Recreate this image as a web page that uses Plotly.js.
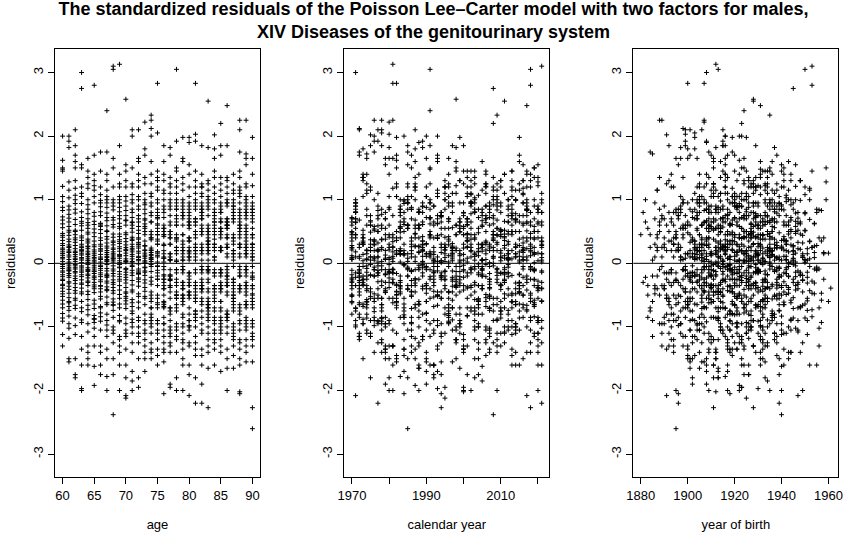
<!DOCTYPE html>
<html>
<head>
<meta charset="utf-8">
<script src="https://cdn.plot.ly/plotly-3.0.1.min.js"></script>
<style>html,body{margin:0;padding:0;background:#fff;}#chart{width:867px;height:546px;}</style>
</head>
<body>
<div id="chart"></div>
<script>
const ages = [60,61,62,63,64,65,66,67,68,69,70,71,72,73,74,75,76,77,78,79,80,81,82,83,84,85,86,87,88,89,90];
const years = [1970,1971,1972,1973,1974,1975,1976,1977,1978,1979,1980,1981,1982,1983,1984,1985,1986,1987,1988,1989,
  1990,1991,1992,1993,1994,1995,1996,1997,1998,1999,2000,2001,2002,2003,2004,2005,2006,2007,2008,2009,
  2010,2011,2012,2013,2014,2015,2016,2017,2018,2019,2020,2021];
const yTicks = [-3,-2,-1,0,1,2,3];
const ageTicks = [60,65,70,75,80,85,90];
const yearTicks = [1970,1980,1990,2000,2010,2020];
const yearTickText = ['1970','','1990','','2010',''];
const birthTicks = [1880,1900,1920,1940,1960];

// standardized residuals, one array per age, values for years 1970..2021
const r60 = [0.12,-0.35,0.68,1.05,-0.08,-0.52,2.00,0.22,-0.91,-0.18,0.41,0.03,1.62,
 -0.27,-0.64,0.15,0.88,0.47,-1.30,-0.02,0.31,1.48,-0.44,-0.12,0.73,0.09,
 -0.79,0.56,0.24,-0.21,-1.12,0.36,0.97,-0.05,-0.58,0.19,1.21,-0.33,0.62,
 0.44,-0.86,-0.14,0.07,1.45,-0.48,0.28,-0.70,0.83,-0.25,1.50,0.16,-0.39];
const r61 = [-0.62,0.18,-0.12,-1.50,-0.04,0.49,1.92,-0.29,0.77,0.06,-0.95,0.34,-0.16,
 0.58,2.00,-0.41,-0.11,-1.18,0.26,0.90,-0.07,0.13,-0.68,0.44,-1.55,0.21,
 0.02,-0.36,1.82,0.65,-0.22,-0.83,0.38,1.03,-0.01,0.29,-0.54,-1.02,0.71,
 -0.19,0.10,0.52,-0.74,1.15,0.25,-0.31,-0.09,0.84,-0.47,0.17,1.28,-0.60];
const r62 = [0.28,-0.15,1.70,0.52,-0.86,-1.80,0.08,2.10,0.37,-0.43,-0.02,1.18,-0.66,
 0.19,0.94,-1.50,1.50,-0.24,-0.07,0.61,-0.32,1.85,0.14,-0.98,0.45,0.03,
 -0.55,0.23,1.60,-0.13,0.79,-1.75,-0.38,0.11,1.07,-0.20,0.50,-0.71,-0.04,
 0.33,1.30,-0.27,0.06,-1.12,0.69,-0.47,0.17,0.85,-0.09,-0.58,0.40,1.00];
const r63 = [0.07,3.00,-0.45,-0.33,1.10,-0.18,-0.76,0.59,0.22,1.55,-2.00,-0.09,0.36,
 -0.48,0.13,1.05,-1.15,0.27,0.81,-0.04,-0.60,0.43,0.18,-1.97,0.01,-0.26,
 0.66,-0.89,1.50,0.20,-0.12,-0.39,0.94,0.05,-1.35,0.30,-0.21,0.72,2.75,
 -0.14,0.52,-0.70,0.09,1.20,-0.31,-1.60,0.25,0.63,-0.06,0.40,-0.93,0.15];
const r64 = [-0.23,0.64,0.11,1.35,-0.57,-0.02,-1.40,0.32,0.85,-0.17,1.65,0.08,-0.44,
 0.49,-0.81,-0.10,0.26,1.00,-1.60,0.19,-0.35,1.25,0.04,-0.66,0.55,-0.13,
 0.38,-0.28,1.45,-0.95,0.14,0.70,-0.07,-1.50,0.23,0.60,-0.49,0.01,0.92,
 -0.30,0.16,-1.08,0.46,-0.19,0.78,0.05,1.18,-0.73,0.27,-0.11,-1.30,0.35];
const r65 = [0.09,-0.71,-0.30,1.40,-0.20,-1.15,0.54,0.02,-0.87,-0.46,-0.13,0.26,1.70,
 -0.37,0.61,-0.06,-0.93,-1.92,0.18,0.42,1.05,-0.25,0.07,-1.30,0.74,-0.12,
 0.29,-0.58,1.22,0.12,-0.03,-0.82,0.95,-0.34,0.48,-1.62,0.21,-0.16,1.15,
 -0.88,0.04,0.66,-0.40,1.30,0.15,-0.64,-0.22,0.35,2.80,-0.09,0.80,-1.02];
const r66 = [-0.18,0.95,0.30,-0.68,0.06,0.60,0.58,-0.11,-0.35,-0.40,0.21,-1.05,0.14,
 0.75,-0.03,1.75,-0.52,-0.26,0.40,0.89,-0.78,0.10,-1.75,0.63,-0.15,1.20,
 -0.91,0.27,-0.36,0.02,-1.30,0.47,0.19,0.81,-0.56,-0.08,1.45,-0.29,0.36,
 -1.40,0.53,0.08,-0.21,-0.70,0.99,-0.45,1.08,0.23,-0.05,-0.84,0.62,-1.60];
const r67 = [0.24,-0.97,-0.20,0.04,-0.43,0.67,1.75,-0.19,0.38,-1.35,0.88,0.11,-0.62,
 -1.78,0.50,-0.08,1.05,-0.31,0.17,-1.15,0.72,2.40,-0.53,0.03,-0.22,1.30,
 0.42,-0.12,-1.50,0.59,0.95,-0.37,-2.00,0.14,-0.80,1.15,0.06,0.27,-0.65,
 0.20,-0.41,1.40,-0.02,0.79,-1.05,-0.17,0.32,0.51,-0.90,1.00,-0.28,0.09];
const r68 = [0.72,0.10,-0.65,-0.26,-0.61,-1.10,0.35,0.90,-0.04,1.65,-1.50,0.18,-0.33,
 0.57,-0.85,0.08,-0.12,0.68,-1.25,0.29,-0.47,1.50,0.02,0.41,-1.75,-0.20,
 0.95,0.13,-0.38,-1.00,0.24,0.61,1.20,-0.09,-0.56,0.05,0.33,-0.74,-2.38,
 0.84,-0.16,0.46,-1.05,0.07,1.00,-0.30,0.22,-0.66,3.05,0.15,-0.43,3.10];
const r69 = [-0.28,0.81,-1.15,0.14,1.40,0.37,-0.06,-0.92,0.55,-0.17,1.05,3.13,-0.49,
 0.23,-0.02,1.85,-1.30,0.46,-0.64,0.11,0.88,-0.21,-1.60,0.70,0.04,1.20,
 -0.82,0.31,-0.13,0.95,-0.42,0.08,-0.70,1.25,0.19,0.58,-1.20,-0.25,0.75,
 -2.00,0.42,-0.07,1.00,-0.90,0.26,-0.35,0.63,-1.40,0.12,0.01,-0.55,0.34];
const r70 = [0.48,-0.22,-1.15,-0.64,0.07,0.20,0.29,0.83,-0.55,-0.10,-0.38,-1.60,0.16,
 -0.45,0.98,0.03,-0.71,-1.35,0.60,0.22,1.05,-0.95,-0.14,0.39,0.75,-2.12,
 0.12,-1.05,2.58,-0.31,0.45,0.02,1.45,-1.80,-0.18,0.67,0.90,-0.52,0.25,
 -0.08,1.20,-1.10,0.34,-0.47,0.68,-0.86,1.55,-2.08,1.30,-0.26,0.04,-0.59];
const r71 = [-0.11,0.65,2.10,-0.88,0.21,-0.45,1.00,-1.25,0.03,0.38,0.85,-0.62,1.50,
 0.14,-1.70,0.55,-0.27,1.20,-0.03,0.30,-0.79,0.72,-1.10,2.00,-0.19,0.41,
 -0.93,0.07,-0.34,0.49,-1.40,0.26,1.08,-0.57,0.18,-1.85,0.64,-0.05,0.11,
 1.25,-0.75,0.36,-0.15,0.60,-1.00,0.02,0.95,-0.42,0.23,-0.68,-2.00,0.80];
const r72 = [0.06,-0.70,-0.16,0.33,-0.14,0.30,0.52,0.19,2.10,-1.00,-0.23,0.40,1.05,
 -0.85,-0.01,-1.80,0.70,0.27,1.40,-0.36,0.11,-1.15,0.90,-0.52,0.04,-1.95,
 1.65,0.16,-0.29,-0.90,0.58,1.20,-0.09,0.38,-1.50,-0.17,0.75,0.24,1.00,
 -1.10,0.09,-0.48,0.85,-0.61,0.30,1.60,1.30,-0.25,0.47,-0.12,0.65,-1.25];
const r73 = [-0.52,0.95,0.08,1.80,-1.05,-0.19,0.35,0.70,-1.40,0.13,2.22,-0.31,0.50,
 0.02,-1.20,0.85,-0.44,1.35,0.27,-0.07,-1.70,0.62,-0.12,1.70,-0.55,0.21,
 -0.95,0.04,1.10,-0.26,0.45,-1.30,0.78,0.16,0.55,-0.80,1.25,-0.38,0.00,
 0.68,-1.10,0.28,-0.06,0.92,-0.65,0.11,-1.50,1.00,0.20,0.58,-0.90,-0.14];
const r74 = [0.21,0.90,2.12,-0.05,-0.60,0.20,0.37,1.10,-0.28,-0.85,0.09,2.25,-1.50,
 0.40,0.65,1.25,-0.13,-0.70,-1.00,0.03,2.00,0.45,-0.90,-1.35,0.17,-0.80,
 1.40,-0.22,-0.50,-1.10,0.75,0.40,0.95,-0.70,0.12,1.60,-0.02,-0.55,-1.25,
 2.33,-0.33,0.24,0.08,1.05,-0.95,-0.45,0.06,0.65,-1.40,0.14,0.50,0.80];
const r75 = [-0.25,0.70,-1.10,1.35,0.15,0.60,-0.90,-0.04,2.05,-0.95,0.45,-0.15,2.83,
 0.55,-1.35,-0.20,-0.50,1.15,0.80,0.35,-0.05,0.18,-1.60,0.62,0.30,1.00,
 -0.70,-0.25,-1.20,0.50,1.45,0.45,0.10,-0.90,0.72,-0.11,1.20,-1.05,0.38,
 -0.55,0.95,0.12,0.30,-1.45,-0.65,-0.35,1.30,0.75,0.18,-0.62,0.85,0.02];
const r76 = [0.60,0.45,-0.62,-0.95,-0.25,1.85,-0.70,0.10,-1.25,0.08,-0.30,0.45,-1.55,
 1.00,0.15,-0.35,-0.85,1.60,0.55,0.02,-1.05,0.72,-0.25,1.10,-2.05,-0.40,
 -0.65,0.90,-0.05,0.55,-1.35,-0.20,1.30,0.80,0.30,-0.40,-0.68,-1.15,0.08,
 1.15,-0.60,0.42,0.20,0.85,-0.95,-0.18,-0.50,1.40,-0.10,0.50,-1.40,0.28];
const r77 = [-0.80,0.40,-0.27,0.30,0.85,-1.15,-0.20,-0.55,-1.05,-1.90,0.06,-0.10,1.25,
 0.15,-0.70,0.95,-1.40,-0.35,-0.25,1.82,-0.90,0.50,0.05,0.75,-1.25,-0.25,
 -0.45,1.10,0.60,0.05,-1.95,-0.70,-0.35,1.35,-1.00,0.30,0.15,0.90,-0.75,
 0.45,-1.30,-0.18,1.00,0.50,0.65,1.70,0.10,-0.20,1.20,-1.10,-0.38,0.40];
const r78 = [0.35,-1.00,-0.50,0.40,0.75,0.25,-0.10,1.92,-0.65,-0.45,-1.80,0.25,0.20,
 0.90,-0.55,1.20,0.85,0.03,-0.10,0.65,-1.40,3.05,-0.30,-0.50,-1.15,1.00,
 -0.75,0.20,0.45,1.30,-2.00,-0.55,-0.15,0.85,-0.95,0.05,1.10,0.60,0.40,
 -1.20,-0.70,-0.25,0.15,1.45,0.70,0.38,-0.50,0.95,-1.05,1.50,-0.35,0.60];
const r79 = [-0.50,0.80,-1.20,-0.30,1.65,0.75,0.05,-0.40,-0.10,-1.50,-0.55,-0.15,1.98,
 0.20,-0.95,0.60,0.30,1.25,-2.00,-0.40,-0.60,0.85,-0.05,1.60,-1.10,0.15,
 0.35,0.95,-0.80,-0.35,-1.35,0.70,0.20,1.00,-0.65,0.25,-1.00,-0.50,1.35,
 -0.10,0.45,-1.25,0.75,0.45,0.10,1.15,-0.85,-0.30,-0.55,0.90,-1.60,0.05];
const r80 = [0.40,-2.08,-0.15,0.35,-0.80,-0.90,-0.98,0.10,0.60,0.55,-1.30,-0.25,-0.55,
 -0.20,0.70,-1.05,-0.35,-0.45,1.90,0.80,0.15,-1.60,0.90,0.10,-0.45,-0.70,
 1.20,0.25,0.60,1.98,0.05,1.05,-0.50,-0.30,-1.75,0.75,0.35,0.20,-0.90,
 0.95,-0.15,1.40,0.65,-0.50,-1.00,0.18,0.40,0.85,-1.25,-0.35,1.55,0.65];
const r81 = [-0.35,0.90,-0.80,1.30,0.20,0.10,-0.55,-2.20,-0.75,0.45,2.03,2.83,-0.60,
 -0.30,-1.45,0.95,0.20,0.60,-0.85,1.92,0.30,0.15,-1.80,-0.45,-0.55,1.10,
 0.70,0.25,-1.00,-0.80,-0.10,1.45,0.65,0.40,-1.25,0.05,0.70,-0.40,1.20,
 -0.90,-0.35,-0.15,0.65,-1.35,1.00,0.50,0.20,-0.75,-0.50,-1.15,0.85,0.25];
const r82 = [0.50,0.70,-0.40,-0.25,-0.65,1.20,0.30,0.50,-0.85,-0.95,-0.10,0.75,-1.45,
 0.85,0.15,-0.40,-1.05,1.20,0.60,0.20,-1.90,-0.55,-0.35,1.05,0.80,0.25,
 -0.45,1.85,0.20,0.70,-1.35,-0.15,0.95,-0.75,-0.35,-0.05,1.25,-1.10,0.45,
 0.55,0.80,-0.30,0.05,-1.60,-0.60,-0.40,1.10,0.85,1.40,-0.10,0.90,-2.20];
const r83 = [-0.40,0.85,-0.05,0.30,1.25,-0.55,-0.10,-0.90,-0.65,0.20,1.82,-1.30,-0.45,
 0.15,-0.75,1.00,0.35,0.55,-1.65,-0.80,-0.10,0.40,0.60,1.15,-2.27,0.25,
 -0.85,-0.70,-0.25,1.30,-1.20,0.35,0.45,0.95,-1.00,0.05,-0.60,-0.70,0.20,
 1.05,0.50,2.55,-0.15,0.75,-1.40,-0.30,-0.65,0.90,0.30,0.50,-1.10,-0.12];
const r84 = [0.70,0.45,-0.10,-0.95,-0.35,2.02,-0.60,-0.15,-1.20,0.80,0.25,1.65,-0.70,
 -0.40,-1.35,0.60,0.10,1.80,0.80,0.25,-0.40,0.95,-1.60,-0.50,-0.20,1.20,
 0.55,0.10,-1.05,0.65,0.30,1.35,-0.75,-0.45,-0.15,0.85,-1.25,0.30,0.50,
 1.00,-0.35,-0.55,-0.90,0.20,-1.10,0.75,0.05,1.45,0.65,0.38,-0.85,1.10];
const r85 = [-0.60,0.95,0.25,1.35,-1.10,-0.40,0.20,0.50,-0.70,-1.40,-0.15,-0.30,1.05,
 0.55,-0.85,-0.20,1.70,0.40,0.85,-1.20,-0.35,-0.10,0.65,-1.70,0.25,0.55,
 1.25,0.20,0.45,-0.95,1.85,0.65,-0.10,-1.05,-0.60,-0.35,0.90,0.80,2.20,
 -1.30,-0.75,-0.15,0.50,0.70,1.15,-0.45,0.20,-1.00,0.80,0.25,-0.40,-0.90];
const r86 = [0.25,-0.90,-0.35,0.40,0.60,0.25,-0.85,-0.15,1.85,0.70,0.30,-2.00,-0.50,
 -0.35,1.00,0.60,0.15,-1.50,-0.75,-0.20,1.20,0.95,0.40,-0.05,0.65,-1.10,
 0.90,-0.45,-0.20,-1.65,0.55,0.25,1.10,-0.80,-0.35,-0.10,0.70,-1.35,0.45,
 0.55,1.30,-0.30,-0.80,-1.00,0.10,0.65,0.60,2.48,-0.85,-0.25,1.35,0.95];
const r87 = [-0.50,-0.75,-1.15,0.30,1.15,0.65,0.10,-0.95,-0.55,-0.30,1.40,-1.30,0.40,
 0.20,0.80,0.95,-0.45,-0.65,-1.65,0.35,0.15,1.00,-1.05,-0.50,-0.25,0.85,
 0.70,0.15,-1.20,-0.70,-0.35,1.10,0.90,0.45,-0.05,0.80,-1.45,-0.25,-0.55,
 0.90,0.20,0.40,-1.00,-0.60,-0.40,1.25,0.75,0.05,-0.60,0.70,-1.10,-0.30];
const r88 = [0.65,0.55,1.75,-0.20,-0.40,1.15,2.25,0.75,0.25,-1.35,-0.90,-0.10,1.20,
 0.85,-2.05,0.55,0.40,2.10,-0.65,-0.15,-1.50,0.70,0.25,1.05,-0.95,-0.35,
 -0.05,0.80,-1.25,-0.45,-2.02,0.60,0.30,1.45,-0.70,-0.20,-1.05,0.95,0.45,
 0.30,-0.80,1.10,0.15,0.50,-1.60,-0.75,-0.35,0.10,0.60,1.35,-1.20,-0.40];
const r89 = [-0.30,1.00,-0.85,0.45,1.72,0.10,-0.20,-0.50,2.25,0.70,0.60,-1.30,-0.35,
 0.80,0.20,1.55,-0.95,-0.10,-0.60,0.95,-1.55,-0.40,-0.15,1.65,0.80,0.25,
 -0.45,-0.70,-1.20,0.15,1.25,0.35,0.55,-1.00,0.85,0.25,0.30,-1.40,1.05,
 -0.65,-0.35,-0.10,0.90,0.75,0.50,-1.05,-0.05,1.20,0.40,-0.65,-0.90,0.15];
const r90 = [0.45,0.80,-0.22,-0.35,-0.70,0.05,-0.48,0.20,-0.95,-1.30,-0.15,-0.55,-1.10,
 0.65,0.30,-2.60,0.85,0.10,0.55,-1.15,1.65,0.45,-0.20,-0.90,0.75,0.30,
 1.05,-1.55,-0.35,-0.05,0.80,0.70,0.25,-1.20,-0.60,-0.40,1.40,0.85,0.10,
 -0.25,0.90,-1.00,-0.50,-0.60,0.15,1.98,0.95,0.40,-2.27,-0.65,1.22,0.30];

const residualRows = [r60,r61,r62,r63,r64,r65,r66,r67,r68,r69,r70,r71,r72,r73,r74,r75,
  r76,r77,r78,r79,r80,r81,r82,r83,r84,r85,r86,r87,r88,r89,r90];

const ageX = [], yearX = [], birthX = [], resY = [];
residualRows.forEach((row, i) => {
  row.forEach((v, j) => {
    if (j >= years.length) return;
    ageX.push(ages[i]);
    yearX.push(years[j]);
    birthX.push(years[j] - ages[i]);
    resY.push(v);
  });
});

const FONT = 'Liberation Sans, Arial, sans-serif';
const marker = {symbol: 'cross-thin', size: 3.5, color: '#000', line: {color: '#000', width: 1}};
function trace(x, xa, ya) {
  return {type: 'scatter', mode: 'markers', x: x, y: resY, xaxis: xa, yaxis: ya,
    marker: marker, hoverinfo: 'x+y', showlegend: false, cliponaxis: false};
}
const data = [trace(ageX, 'x', 'y'), trace(yearX, 'x2', 'y2'), trace(birthX, 'x3', 'y3')];

const W = 867, H = 546;
const yDom = [1 - 477 / H, 1 - 49 / H];
const yRange = [-3.36, 3.37];
function xAxis(dom, range, tickvals, ticktext, title, anchor) {
  return {domain: [dom[0] / W, dom[1] / W], range: range, anchor: anchor,
    tickmode: 'array', tickvals: tickvals, ticktext: ticktext,
    ticks: 'outside', ticklen: 6, tickwidth: 1, tickcolor: '#000',
    showline: true, mirror: true, linecolor: '#000', linewidth: 1,
    showgrid: false, zeroline: false, fixedrange: true,
    tickfont: {family: FONT, size: 13, color: '#000'},
    title: {text: title, font: {family: FONT, size: 13, color: '#000'}, standoff: 18}};
}
function yAxis(anchor) {
  return {domain: yDom, range: yRange, anchor: anchor,
    tickmode: 'array', tickvals: yTicks, ticktext: yTicks.map(String), tickangle: -90,
    ticks: 'outside', ticklen: 6, tickwidth: 1, tickcolor: '#000',
    showline: true, mirror: true, linecolor: '#000', linewidth: 1,
    showgrid: false, zeroline: false, fixedrange: true,
    tickfont: {family: FONT, size: 13, color: '#000'},
    title: {text: 'residuals', font: {family: FONT, size: 13, color: '#000'}, standoff: 12}};
}

const layout = {
  width: W, height: H,
  margin: {l: 0, r: 0, t: 0, b: 0, pad: 0},
  paper_bgcolor: '#fff', plot_bgcolor: '#fff',
  title: {text: '<b>The standardized residuals of the Poisson Lee\u2013Carter model with two factors for males,<br>XIV Diseases of the genitourinary system</b>',
    font: {family: FONT, size: 18, color: '#000'}, x: 0.5, xanchor: 'center',
    xref: 'paper', yref: 'container', y: 1 - 15 / H, yanchor: 'middle'},
  xaxis: xAxis([55, 260], [58.8, 91.2], ageTicks, ageTicks.map(String), 'age', 'y'),
  xaxis2: xAxis([344.3, 549.3], [1967.96, 2023.04], yearTicks, yearTickText, 'calendar year', 'y2'),
  xaxis3: xAxis([633.3, 838.3], [1876.8, 1964.2], birthTicks, birthTicks.map(String), 'year of birth', 'y3'),
  yaxis: yAxis('x'),
  yaxis2: yAxis('x2'),
  yaxis3: yAxis('x3'),
  shapes: ['x', 'x2', 'x3'].map((xa, k) => ({type: 'line', xref: xa + ' domain', yref: ['y', 'y2', 'y3'][k],
    x0: 0, x1: 1, y0: 0, y1: 0, line: {color: '#000', width: 1}}))
};

Plotly.newPlot('chart', data, layout, {displayModeBar: false, staticPlot: true});
</script>
</body>
</html>
